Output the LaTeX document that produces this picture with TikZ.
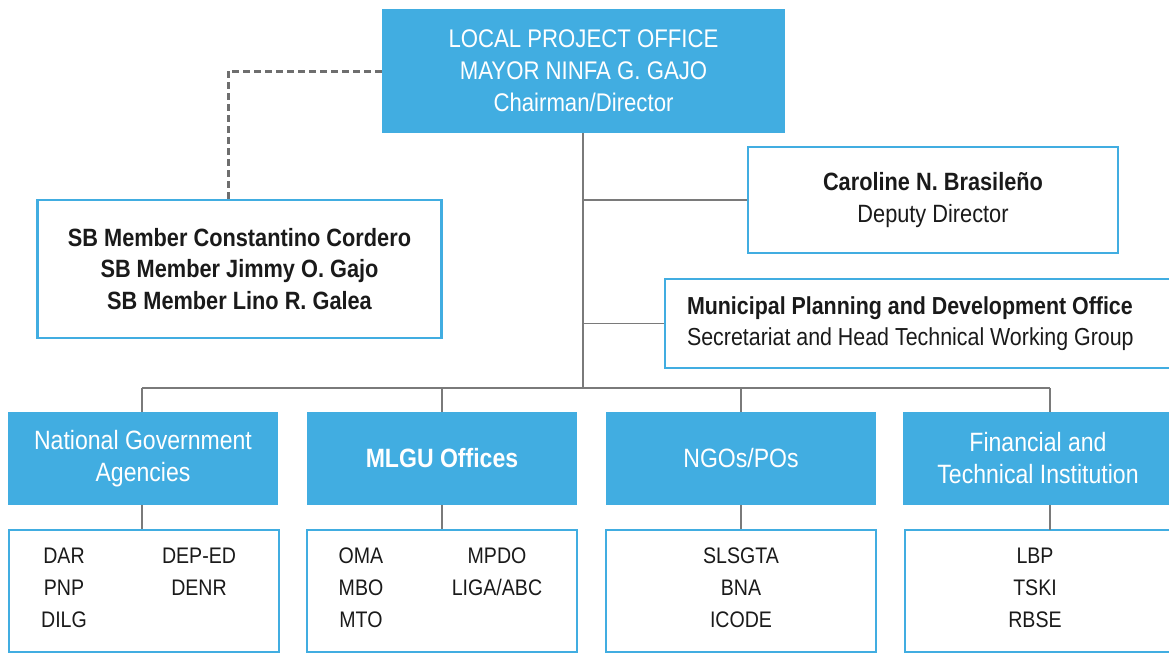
\documentclass[tikz,border=0pt]{standalone}
\usepackage{fontspec}
\setmainfont{Liberation Sans}[FakeStretch=0.87]
\definecolor{lgublue}{HTML}{41ADE1}
\definecolor{linegray}{HTML}{7A7A7A}
\definecolor{dashgray}{HTML}{6E6E6E}
\definecolor{txt}{HTML}{1A1A1A}
\begin{document}
\begin{tikzpicture}[x=1pt,y=-1pt,
  fillbox/.style={fill=lgublue, draw=none, text=white, align=center, inner sep=0pt},
  linebox/.style={draw=lgublue, line width=2.5pt, fill=white, text=txt, align=center, inner sep=0pt},
  conn/.style={draw=linegray, line width=1.3pt},
  dashconn/.style={draw=dashgray, line width=3pt, dash pattern=on 7pt off 4pt},
  topf/.style={font=\fontsize{25.5}{32}\selectfont},
  midf/.style={font=\fontsize{25}{31.5}\selectfont},
  mpdof/.style={font=\fontsize{24.6}{31.5}\selectfont},
  headf/.style={font=\fontsize{26.5}{32}\selectfont},
  itemf/.style={font=\fontsize{22.5}{32}\selectfont, text=txt, anchor=base, inner sep=0pt}
]
\useasboundingbox (0,0) rectangle (1169,654);
\clip (0,0) rectangle (1169,654);
\fill[white] (0,0) rectangle (1169,654);

% top box
\node[fillbox, topf, minimum width=403pt, minimum height=124pt] (lpo) at (583.5,71)
  {LOCAL PROJECT OFFICE\\MAYOR NINFA G. GAJO\\Chairman/Director};

% SB box
\node[linebox, midf, minimum width=404pt, minimum height=138pt] (sb) at (239.5,269)
  {\bfseries SB Member Constantino Cordero\\\bfseries SB Member Jimmy O. Gajo\\\bfseries SB Member Lino R. Galea};

% Deputy
\node[linebox, midf, minimum width=370pt, minimum height=106pt] (dep) at (933,200)
  {{\bfseries Caroline N. Brasile\~no}\\Deputy Director};

% MPDO
\node[linebox, mpdof, minimum width=525pt, minimum height=89pt, text width=481pt, align=left] (mpdo) at (927.5,323.5)
  {\spaceskip=0.24em {\bfseries Municipal Planning and Development Office}\\Secretariat and Head Technical Working Group};

% headings
\node[fillbox, headf, minimum width=270pt, minimum height=93pt] (nga) at (143,458.5) {National Government\\Agencies};
\node[fillbox, headf, minimum width=270pt, minimum height=93pt] (mlgu) at (442,458.5) {\bfseries MLGU Offices};
\node[fillbox, headf, minimum width=270pt, minimum height=93pt] (ngo) at (741,458.5) {NGOs/POs};
\node[fillbox, headf, minimum width=270pt, minimum height=93pt] (fti) at (1038,458.5) {Financial and\\Technical Institution};

% lower boxes
\node[linebox, minimum width=270pt, minimum height=122pt] (ngal) at (144,591) {};
\node[linebox, minimum width=270pt, minimum height=122pt] (mlgul) at (442,591) {};
\node[linebox, minimum width=270pt, minimum height=122pt] (ngol) at (741,591) {};
\node[linebox, minimum width=290pt, minimum height=122pt] (ftil) at (1050,591) {};

% items
\node[itemf] (i1) at (64,563) {DAR};
\node[itemf] (i2) at (64,595) {PNP};
\node[itemf] (i3) at (64,627) {DILG};
\node[itemf] (i4) at (199,563) {DEP-ED};
\node[itemf] (i5) at (199,595) {DENR};
\node[itemf] (i6) at (361,563) {OMA};
\node[itemf] (i7) at (361,595) {MBO};
\node[itemf] (i8) at (361,627) {MTO};
\node[itemf] (i9) at (497,563) {MPDO};
\node[itemf] (i10) at (497,595) {LIGA/ABC};
\node[itemf] (i11) at (741,563) {SLSGTA};
\node[itemf] (i12) at (741,595) {BNA};
\node[itemf] (i13) at (741,627) {ICODE};
\node[itemf] (i14) at (1035,563) {LBP};
\node[itemf] (i15) at (1035,595) {TSKI};
\node[itemf] (i16) at (1035,627) {RBSE};

% connectors
\coordinate (bus) at (583,388);
\coordinate (busL) at (142,388);
\coordinate (busR) at (1050,388);
\coordinate (ftitop) at (1050,412);
\coordinate (ftibot) at (1050,505);
\coordinate (ftilow) at (1050,530);
\coordinate (trunktop) at (583,133);
\coordinate (dashend) at (228,200);

\draw[dashconn] (lpo.west) -| (dashend);
\draw[conn] (trunktop) -- (bus);
\draw[conn] (dep.west) -- (dep.west -| bus);
\draw[conn] (mpdo.west) -- (mpdo.west -| bus);
\draw[conn] (busL) -- (busR);
\draw[conn] (busL) -- (nga.north -| busL);
\draw[conn] (mlgu.north |- bus) -- (mlgu.north);
\draw[conn] (ngo.north |- bus) -- (ngo.north);
\draw[conn] (busR) -- (ftitop);
\draw[conn] (nga.south -| busL) -- (ngal.north -| busL);
\draw[conn] (mlgu.south) -- (mlgul.north);
\draw[conn] (ngo.south) -- (ngol.north);
\draw[conn] (ftibot) -- (ftilow);
\end{tikzpicture}
\end{document}
